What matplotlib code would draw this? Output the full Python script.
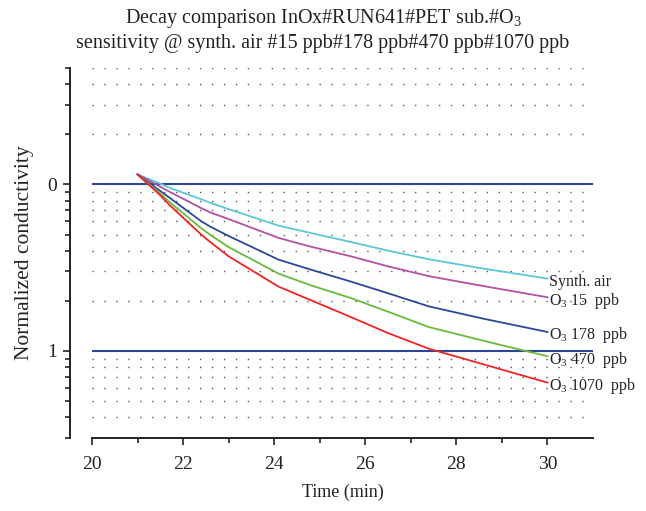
import numpy as np
import matplotlib
matplotlib.use("Agg")
import matplotlib.pyplot as plt
from matplotlib.ticker import FixedLocator, LogLocator, NullFormatter

plt.rcParams['font.family'] = ['Liberation Serif', 'DejaVu Serif']
plt.rcParams['mathtext.fontset'] = 'custom'
plt.rcParams['mathtext.rm'] = 'Liberation Serif'

# values (log y axis)
time = [21.0, 21.5, 21.7, 22.4, 22.6, 23.0, 24.1, 24.8, 25.7, 26.5, 27.4, 28.6, 30.0]
synth_air = [1.147, 1.01, 0.955, 0.814, 0.774, 0.71, 0.565, 0.511, 0.450, 0.40, 0.355, 0.312, 0.272]
o3_15 = [1.147, 0.969, 0.904, 0.720, 0.678, 0.619, 0.477, 0.423, 0.369, 0.322, 0.281, 0.245, 0.210]
o3_178 = [1.147, 0.912, 0.833, 0.600, 0.557, 0.49, 0.353, 0.308, 0.260, 0.222, 0.185, 0.156, 0.130]
o3_470 = [1.147, 0.88, 0.785, 0.545, 0.497, 0.42, 0.291, 0.248, 0.207, 0.172, 0.139, 0.115, 0.0929]
o3_1070 = [1.147, 0.86, 0.753, 0.499, 0.45, 0.37, 0.243, 0.202, 0.159, 0.128, 0.103, 0.083, 0.0645]

series = [synth_air, o3_15, o3_178, o3_470, o3_1070]
names = ['Synth. air', r'$\mathregular{O_3}$ 15  ppb', r'$\mathregular{O_3}$ 178  ppb',
         r'$\mathregular{O_3}$ 470  ppb', r'$\mathregular{O_3}$ 1070  ppb']
colors = ['#5cc8d6', '#b450a6', '#2c479a', '#66bb3a', '#ee2424']

ytick_vals = [0.1, 1.0]
ytick_labels = ['1', '0']

fig = plt.figure(figsize=(6.46, 5.11), dpi=100)
ax = fig.add_axes([92/646, 1 - 438/511, (593 - 92)/646, (438 - 68)/511])

ax.set_yscale('log')
ax.set_xlim(20, 31)
ax.set_ylim(0.03, 5)

for y, c, name in zip(series, colors, names):
    ax.plot(time, y, color=c, lw=1.3, zorder=3)
    ax.annotate(name, xy=(time[-1], y[-1]), xytext=(1, -2.5), textcoords='offset points',
                va='center', ha='left', fontsize=11.5, color='#222222')

# dotted minor grid, solid blue decade lines
ax.yaxis.set_major_locator(FixedLocator(ytick_vals))
ax.set_yticklabels(ytick_labels)
ax.yaxis.set_minor_locator(LogLocator(base=10, subs=np.arange(2, 10)))
ax.yaxis.set_minor_formatter(NullFormatter())
ax.grid(which='minor', axis='y', color='#555555', lw=1.0, linestyle=(0, (1, 7.6)))
for v in ytick_vals:
    ax.axhline(v, color='#2c479a', lw=1.5, zorder=2)

ax.set_xticks(np.arange(20, 31, 2))
ax.set_xticks(np.arange(21, 31, 2), minor=True)

for s in ['top', 'right']:
    ax.spines[s].set_visible(False)
ax.spines['left'].set_position(('outward', 16))
for s in ['left', 'bottom']:
    ax.spines[s].set_color('#222222')
    ax.spines[s].set_linewidth(1.4)

ax.tick_params(axis='both', which='major', labelsize=14, colors='#222222', length=5, width=1.2)
ax.tick_params(axis='both', which='minor', length=3.5, width=1.2, colors='#222222')
ax.tick_params(axis='x', which='both', direction='out')
ax.tick_params(axis='x', pad=8)
ax.tick_params(axis='y', pad=4)

ax.set_xlabel('Time (min)', fontsize=13, color='#222222', labelpad=8)
ax.set_ylabel('Normalized conductivity', fontsize=15.5, color='#222222', labelpad=10)

fig.text(0.5, 1 - 18/511, r'Decay comparison InOx#RUN641#PET sub.#$\mathregular{O_3}$',
         ha='center', va='center', fontsize=14.5, color='#222222')
fig.text(0.5, 1 - 43/511, 'sensitivity @ synth. air #15 ppb#178 ppb#470 ppb#1070 ppb',
         ha='center', va='center', fontsize=14.5, color='#222222')

fig.savefig('out.png', dpi=100)
